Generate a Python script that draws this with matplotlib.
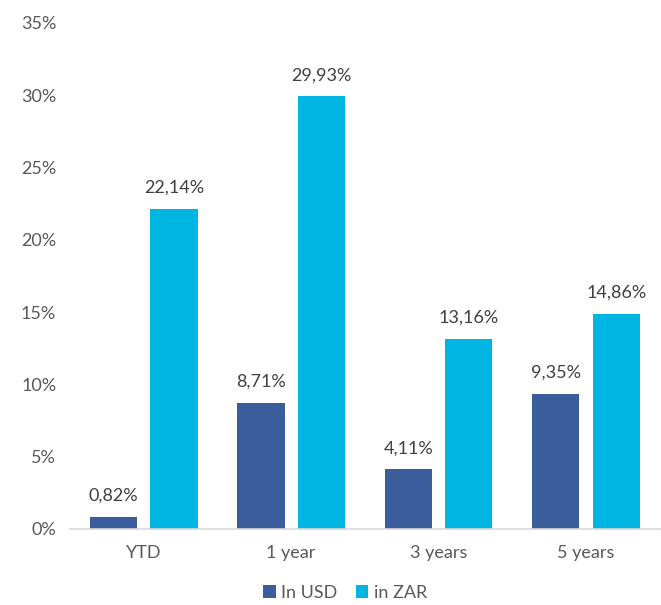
import matplotlib.pyplot as plt
import numpy as np

categories = ['YTD', '1 year', '3 years', '5 years']
usd = [0.82, 8.71, 4.11, 9.35]
zar = [22.14, 29.93, 13.16, 14.86]
usd_labels = ['0,82%', '8,71%', '4,11%', '9,35%']
zar_labels = ['22,14%', '29,93%', '13,16%', '14,86%']

plt.rcParams['font.family'] = ['Lato', 'DejaVu Sans']
grey = '#595959'

fig = plt.figure(figsize=(6.61, 6.05), dpi=100)
ax = fig.add_axes([0.106, 0.126, 0.892, 0.836])

x = np.arange(len(categories))
w = 0.32
b1 = ax.bar(x - 0.205, usd, w, color='#3A5D9C', label='In USD')
b2 = ax.bar(x + 0.205, zar, w, color='#00B5E2', label='in ZAR')

for bars, labels in [(b1, usd_labels), (b2, zar_labels)]:
    for bar, lab in zip(bars, labels):
        ax.text(bar.get_x() + bar.get_width() / 2, bar.get_height() + 0.9, lab,
                ha='center', va='bottom', fontsize=13, color='#404040')

ax.set_xlim(-0.5, 3.5)
ax.set_ylim(0, 35)
ax.set_yticks(range(0, 36, 5))
ax.set_yticklabels([f'{v}%' for v in range(0, 36, 5)])
ax.set_xticks(x)
ax.set_xticklabels(categories)
ax.tick_params(axis='both', length=0, labelsize=13, colors=grey)
ax.tick_params(axis='x', pad=12)
ax.tick_params(axis='y', pad=10)
for s in ['top', 'right', 'left']:
    ax.spines[s].set_visible(False)
ax.spines['bottom'].set_color('#D9D9D9')
ax.spines['bottom'].set_linewidth(1.2)

leg = fig.legend(loc='center', bbox_to_anchor=(0.522, 0.02), ncol=2, frameon=False,
                 fontsize=13, handlelength=0.7, handleheight=0.7, handletextpad=0.3,
                 columnspacing=1.0, labelcolor=grey)

fig.savefig('out.png', dpi=100)
